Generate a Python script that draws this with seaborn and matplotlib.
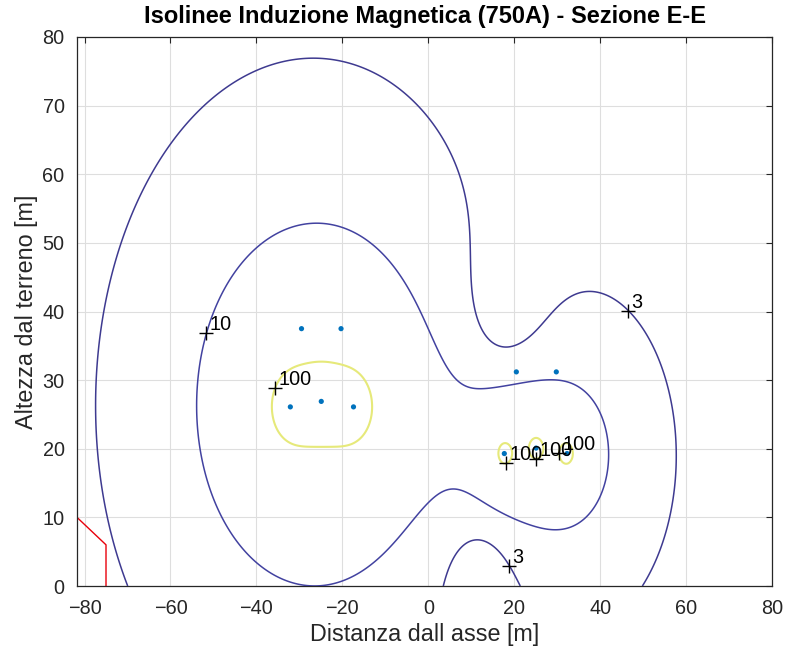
import numpy as np
import pandas as pd
import matplotlib
matplotlib.use("Agg")
import matplotlib.pyplot as plt
import seaborn as sns

# ---------------- data ----------------
title_text = "Isolinee Induzione Magnetica (750A) - Sezione E-E"
x_label = "Distanza dall asse [m]"
y_label = "Altezza dal terreno [m]"

# phase conductors: left line (3 phases) and right line (3 phases)
cond_x = [-32.1, -24.9, -17.4, 17.7, 25.1, 32.3]
cond_y = [26.1, 26.9, 26.1, 19.3, 20.1, 19.3]
cond_current = [3000, 3000, 3000, 750, 750, 750]      # A (rms)
cond_phase = [0, -120, 120, 0, -120, 120]             # degrees

# shield (earth) wires, no current
shield_x = [-29.5, -20.3, 20.5, 29.8]
shield_y = [37.5, 37.5, 31.2, 31.2]

iso_levels = [3, 10, 100]                             # microtesla
label_levels = [10, 100, 100, 100, 100, 3, 3]
label_x = [-52.0, -35.8, 18.1, 25.1, 30.7, 46.5, 18.6]
label_y = [36.9, 28.8, 18.0, 18.7, 19.4, 40.0, 2.6]

border_x = [-81.75, -75.0, -75.0]
border_y = [10.0, 6.0, 0.0]

x_ticks = [-80, -60, -40, -20, 0, 20, 40, 60, 80]
y_ticks = [0, 10, 20, 30, 40, 50, 60, 70, 80]
x_range = (-81.75, 80)
y_range = (0, 80)

# ---------------- style ----------------
sns.set_theme(style="whitegrid")
plt.rcParams["font.family"] = ["Liberation Sans", "DejaVu Sans"]
axis_col = "#262626"

fig = plt.figure(figsize=(7.85, 6.6), dpi=100)
ax = fig.add_axes([77 / 785, 74 / 660, 695 / 785, 549 / 660])

# ---------------- magnetic field (Biot-Savart, 2D) ----------------
gx = np.linspace(x_range[0], x_range[1], 901)
gy = np.linspace(y_range[0], y_range[1], 451)
X, Y = np.meshgrid(gx, gy)
Bx = np.zeros(X.shape, dtype=complex)
By = np.zeros(X.shape, dtype=complex)
for x0, y0, I, ph in zip(cond_x, cond_y, cond_current, cond_phase):
    Ip = I * np.exp(1j * np.deg2rad(ph))
    dx = X - x0
    dy = Y - y0
    r2 = dx ** 2 + dy ** 2 + 1e-9
    Bx += 0.2 * Ip * (-dy) / r2
    By += 0.2 * Ip * dx / r2
B = np.sqrt(np.abs(Bx) ** 2 + np.abs(By) ** 2)

level_colors = ["#3E3A90", "#4242A0", "#E6E97A"]
level_widths = [1.1, 1.1, 1.5]
cs = ax.contour(X, Y, B, levels=iso_levels, colors=level_colors,
                linewidths=level_widths, zorder=3)

# conductors and shield wires
pts = pd.DataFrame({"x": cond_x + shield_x, "y": cond_y + shield_y})
sns.scatterplot(data=pts, x="x", y="y", color="#0072BD", s=14,
                edgecolor="none", ax=ax, zorder=4)

# red border line
sns.lineplot(x=border_x, y=border_y, sort=False, estimator=None,
             color="#E8000B", lw=1.0, ax=ax, zorder=2)

# contour labels ('+' marker and value), snapped onto the computed lines
for lv, lx, ly in zip(label_levels, label_x, label_y):
    segs = cs.allsegs[iso_levels.index(lv)]
    allp = np.vstack([s for s in segs if len(s)])
    d = (allp[:, 0] - lx) ** 2 + (allp[:, 1] - ly) ** 2
    px, py = allp[np.argmin(d)]
    ax.plot([px], [py], marker="+", color="black", ms=10, mew=1.0,
            ls="none", zorder=6)
    ax.annotate(str(lv), (px, py), xytext=(2.2, 2.2), textcoords="offset points",
                ha="left", va="baseline", fontsize=14.3, color="black", zorder=7)

# ---------------- axes ----------------
ax.set_xlim(*x_range)
ax.set_ylim(*y_range)
ax.set_xticks(x_ticks)
ax.set_yticks(y_ticks)
ax.grid(True, color="#DEDEDE", lw=0.8)
ax.set_axisbelow(True)
ax.set_facecolor("white")
for sp in ax.spines.values():
    sp.set_visible(True)
    sp.set_color(axis_col)
    sp.set_linewidth(0.9)
ax.tick_params(direction="in", length=4, width=0.8, top=True, right=True,
               labelsize=14.3, labelcolor=axis_col, color=axis_col, pad=9)
ax.set_xlabel(x_label, fontsize=16.8, color=axis_col, labelpad=4)
ax.set_ylabel(y_label, fontsize=16.8, color=axis_col, labelpad=3)
ax.set_title(title_text, fontsize=17, fontweight="bold", color="black", pad=10)

fig.savefig("out.png", dpi=100)
